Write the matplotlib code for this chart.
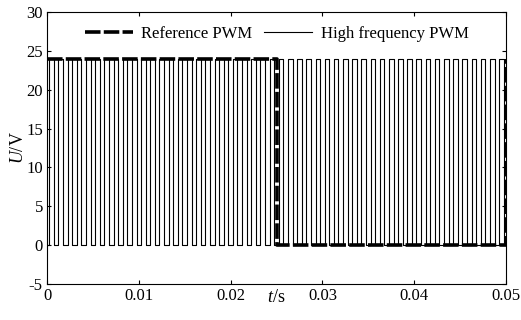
import matplotlib
matplotlib.use("Agg")
import matplotlib.pyplot as plt
import numpy as np

plt.rcParams.update({'font.family': 'Liberation Serif', 'font.size': 12,
                     'axes.unicode_minus': False,
                     'mathtext.fontset': 'custom',
                     'mathtext.it': 'Liberation Serif:italic',
                     'mathtext.rm': 'Liberation Serif'})

# reference PWM (one period of 0.05 s, 50 % duty)
ref_t = [0, 0.025, 0.025, 0.05, 0.05]
ref_u = [24, 24, 0, 0, 24]

# high frequency PWM: 1 kHz, edges within each 1 ms period
hf_period = 0.001
hf_n = 50
hf_rise = 0.00025
hf_fall = 0.00075
hf_level = 24

hf_t = [0.0]
hf_u = [0]
for k in range(hf_n):
    t0 = k * hf_period
    hf_t += [t0 + hf_rise, t0 + hf_rise, t0 + hf_fall, t0 + hf_fall]
    hf_u += [0, hf_level, hf_level, 0]
hf_t.append(hf_n * hf_period)
hf_u.append(0)

xticks = [0, 0.01, 0.02, 0.03, 0.04, 0.05]
xticklabels = ['0', '0.01', '0.02', '0.03', '0.04', '0.05']
yticks = [-5, 0, 5, 10, 15, 20, 25, 30]

fig = plt.figure(figsize=(5.21, 3.2), dpi=100)
ax = fig.add_axes([47 / 521, 1 - 284 / 320, 459 / 521, 272 / 320])

ax.plot(ref_t, ref_u, color='k', lw=2.6, dashes=(4.3, 0.9),
        label='Reference PWM', zorder=3)
ax.plot(hf_t, hf_u, color='k', lw=0.8, label='High frequency PWM')

ax.set_xlim(0, 0.05)
ax.set_ylim(-5, 30)
ax.set_xticks(xticks)
ax.set_xticklabels(xticklabels)
ax.set_yticks(yticks)
ax.tick_params(direction='in', top=True, right=True, length=3,
               labelsize=12, pad=3)
for s in ax.spines.values():
    s.set_linewidth(0.8)

ax.set_xlabel(r'$\mathit{t}$/s', fontsize=13, labelpad=-11)
ax.set_ylabel(r'$\mathit{U}$/V', fontsize=13, labelpad=-1)

ax.legend(loc='upper center', ncol=2, frameon=False, fontsize=12,
          handlelength=2.9, columnspacing=0.7, handletextpad=0.5,
          bbox_to_anchor=(0.5, 1.005))

fig.savefig('out.png', dpi=100)
